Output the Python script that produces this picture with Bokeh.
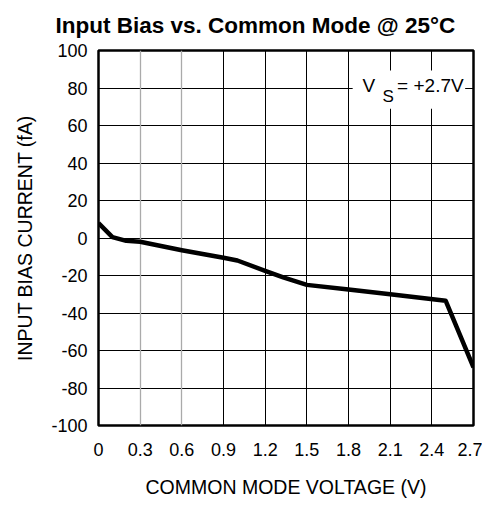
from bokeh.plotting import figure
from bokeh.models import FixedTicker, Grid, Label, BoxAnnotation, Title, Range1d, CustomJSTickFormatter
from bokeh.embed import file_html
from bokeh.resources import INLINE

# ---- data ----
voltage = [0.0, 0.1, 0.2, 0.3, 0.6, 0.9, 1.0, 1.2, 1.33, 1.5, 1.8, 2.1, 2.5, 2.7]
bias_fA = [8.0, 0.5, -1.5, -2.0, -6.5, -10.5, -12.0, -17.5, -21.0, -25.0, -27.5, -30.0, -33.5, -69.0]

x_ticks = [0.0, 0.3, 0.6, 0.9, 1.2, 1.5, 1.8, 2.1, 2.4, 2.7]
x_tick_labels = ["0", "0.3", "0.6", "0.9", "1.2", "1.5", "1.8", "2.1", "2.4", "2.7"]
y_ticks = [-100, -80, -60, -40, -20, 0, 20, 40, 60, 80, 100]
y_tick_labels = ["-100", "-80", "-60", "-40", "-20", "0", "20", "40", "60", "80", "100"]

title_text = "Input Bias vs. Common Mode @ 25°C"
x_label = "COMMON MODE VOLTAGE (V)"
y_label = "INPUT BIAS CURRENT (fA)"
FONT = "Liberation Sans"

p = figure(frame_width=375, frame_height=375,
           x_range=Range1d(0, 2.7), y_range=Range1d(-100, 100),
           output_backend="svg", toolbar_location=None,
           min_border=0, min_border_left=98, min_border_right=9,
           min_border_top=50, min_border_bottom=80)

p.title = Title(text=title_text, text_font=FONT, text_font_size="22.5px",
                text_font_style="bold", align="left", offset=-43, standoff=21,
                vertical_align="top", text_color="black")

p.outline_line_color = "black"
p.outline_line_width = 2.5

# axes
for ax in (p.xaxis[0], p.yaxis[0]):
    ax.axis_line_color = None
    ax.major_tick_line_color = None
    ax.minor_tick_line_color = None
    ax.major_tick_out = 0
    ax.major_tick_in = 0
    ax.minor_tick_out = 0
    ax.minor_tick_in = 0
    ax.major_label_text_font = FONT
    ax.major_label_text_font_size = "18px"
    ax.major_label_text_color = "black"
    ax.axis_label_text_font = FONT
    ax.axis_label_text_font_size = "19.5px"
    ax.axis_label_text_font_style = "normal"
    ax.axis_label_text_color = "black"

lookup = "const i = vals.findIndex(t => Math.abs(t - tick) < 1e-6); return i >= 0 ? names[i] : '';"
p.xaxis.ticker = FixedTicker(ticks=x_ticks)
p.xaxis.formatter = CustomJSTickFormatter(args=dict(vals=x_ticks, names=x_tick_labels), code=lookup)
p.xaxis.major_label_standoff = 17
p.xaxis.axis_label = x_label
p.xaxis.axis_label_standoff = 17

p.yaxis.ticker = FixedTicker(ticks=y_ticks)
p.yaxis.formatter = CustomJSTickFormatter(args=dict(vals=y_ticks, names=y_tick_labels), code=lookup)
p.yaxis.major_label_standoff = 11
p.yaxis.axis_label = y_label
p.yaxis.axis_label_standoff = 12

# grids
p.xgrid.ticker = FixedTicker(ticks=x_ticks[3:-1])
p.xgrid.grid_line_color = "black"
p.xgrid.grid_line_width = 1
p.ygrid.ticker = FixedTicker(ticks=y_ticks[1:-1])
p.ygrid.grid_line_color = "black"
p.ygrid.grid_line_width = 1
p.add_layout(Grid(dimension=0, ticker=FixedTicker(ticks=x_ticks[1:3]),
                  grid_line_color="#aaaaaa", grid_line_width=1.3))

# data line
p.line(voltage, bias_fA, line_color="black", line_width=4.5, line_join="round")

# annotation with white background
p.add_layout(BoxAnnotation(left=1.83, right=2.64, bottom=69, top=89.3,
                           fill_color="white", fill_alpha=1.0, line_color=None))
p.add_layout(Label(x=1.9, y=80, text="V", text_font=FONT, text_font_size="19px",
                   text_baseline="middle", text_align="left", text_color="black", y_offset=3))
p.add_layout(Label(x=2.045, y=80, text="S", text_font=FONT, text_font_size="17px",
                   text_baseline="middle", text_align="left", text_color="black", y_offset=-8))
p.add_layout(Label(x=2.15, y=80, text="= +2.7V", text_font=FONT, text_font_size="19px",
                   text_baseline="middle", text_align="left", text_color="black", y_offset=3))

open("out.html", "w").write(file_html(p, INLINE))
